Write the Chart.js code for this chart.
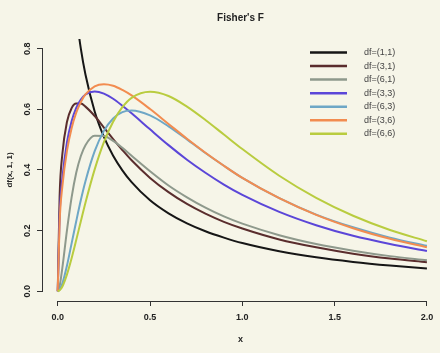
<!DOCTYPE html>
<html>
<head>
<meta charset="utf-8">
<script src="https://cdn.jsdelivr.net/npm/chart.js@4"></script>
<style>
  html, body { margin: 0; padding: 0; background: #f6f5e8; }
  #wrap { width: 440px; height: 353px; }
</style>
</head>
<body>
<div id="wrap"><canvas id="fisherChart" width="440" height="353"></canvas></div>
<script>
// x positions where the curves were read
const xs = [0, 0.01, 0.025, 0.05, 0.075, 0.1, 0.125, 0.15, 0.2, 0.25, 0.3, 0.35, 0.4,
            0.5, 0.6, 0.7, 0.8, 0.9, 1.0, 1.2, 1.4, 1.6, 1.8, 2.0];

const seriesLabels = ["df=(1,1)", "df=(3,1)", "df=(6,1)", "df=(3,3)", "df=(6,3)", "df=(3,6)", "df=(6,6)"];
const seriesColors = ["#161616", "#5a2d2d", "#8e998c", "#5b46d8", "#6ea7c6", "#f28c50", "#b9cc3f"];

const df11 = [null, null, null, null, 1.081, 0.915, 0.800, 0.715, 0.593, 0.509, 0.447, 0.399, 0.360,
              0.300, 0.257, 0.224, 0.198, 0.177, 0.159, 0.132, 0.112, 0.097, 0.085, 0.075];
const df31 = [0, 0.312, 0.453, 0.559, 0.604, 0.619, 0.619, 0.609, 0.578, 0.540, 0.502, 0.466, 0.432,
              0.374, 0.327, 0.288, 0.256, 0.229, 0.207, 0.171, 0.145, 0.124, 0.108, 0.096];
const df61 = [0, 0.017, 0.078, 0.202, 0.310, 0.391, 0.446, 0.482, 0.513, 0.512, 0.496, 0.473, 0.447,
              0.396, 0.349, 0.310, 0.276, 0.247, 0.223, 0.185, 0.156, 0.134, 0.116, 0.102];
const df33 = [0, 0.247, 0.374, 0.492, 0.561, 0.605, 0.632, 0.649, 0.659, 0.652, 0.635, 0.612, 0.587,
              0.534, 0.482, 0.434, 0.391, 0.352, 0.318, 0.262, 0.218, 0.183, 0.156, 0.133];
const df63 = [0, 0.005, 0.026, 0.085, 0.158, 0.231, 0.301, 0.363, 0.462, 0.529, 0.570, 0.591, 0.596,
              0.580, 0.544, 0.501, 0.456, 0.414, 0.374, 0.307, 0.253, 0.211, 0.177, 0.150];
const df36 = [0, 0.227, 0.347, 0.464, 0.538, 0.589, 0.624, 0.649, 0.676, 0.683, 0.678, 0.664, 0.646,
              0.601, 0.552, 0.503, 0.457, 0.414, 0.374, 0.307, 0.252, 0.208, 0.173, 0.145];
const df66 = [0, 0.003, 0.016, 0.056, 0.109, 0.169, 0.231, 0.292, 0.402, 0.492, 0.559, 0.607, 0.638,
              0.658, 0.644, 0.609, 0.565, 0.517, 0.469, 0.381, 0.308, 0.249, 0.202, 0.165];

const xTicks = [0, 0.5, 1.0, 1.5, 2.0];
const yTicks = [0, 0.2, 0.4, 0.6, 0.8];

const allSeries = [df11, df31, df61, df33, df63, df36, df66];

// later curves sit on top, as in the original plot
const datasets = allSeries.map((ys, k) => ({
  label: seriesLabels[k],
  data: ys.map((y, i) => ({ x: xs[i], y: y })),
  borderColor: seriesColors[k],
  borderWidth: 2,
  pointRadius: 0,
  fill: false,
  order: -k,
  cubicInterpolationMode: "monotone"
}));

const fontFamily = "'Liberation Sans', Arial, sans-serif";

// background, R-style axis lines, title and legend inside the plot
const decorations = {
  id: "decorations",
  beforeDraw(chart) {
    const ctx = chart.ctx;
    ctx.save();
    ctx.fillStyle = "#f6f5e8";
    ctx.fillRect(0, 0, chart.width, chart.height);
    ctx.restore();
  },
  afterDraw(chart) {
    const ctx = chart.ctx;
    const area = chart.chartArea;
    const sx = chart.scales.x;
    const sy = chart.scales.y;
    ctx.save();
    ctx.strokeStyle = "#333";
    ctx.lineWidth = 1;
    ctx.beginPath();
    ctx.moveTo(sx.getPixelForValue(xTicks[0]), area.bottom + 0.5);
    ctx.lineTo(sx.getPixelForValue(xTicks[xTicks.length - 1]), area.bottom + 0.5);
    ctx.moveTo(area.left - 0.5, sy.getPixelForValue(yTicks[0]));
    ctx.lineTo(area.left - 0.5, sy.getPixelForValue(yTicks[yTicks.length - 1]));
    ctx.stroke();

    ctx.fillStyle = "#222";
    ctx.font = "bold 10px " + fontFamily;
    ctx.textAlign = "center";
    ctx.textBaseline = "middle";
    ctx.fillText("Fisher's F", (area.left + area.right) / 2, 18);

    // legend
    ctx.font = "9px " + fontFamily;
    ctx.textAlign = "left";
    chart.data.datasets.forEach((ds, i) => {
      const y = 52.5 + i * 13.55;
      ctx.strokeStyle = ds.borderColor;
      ctx.lineWidth = 2.5;
      ctx.beginPath();
      ctx.moveTo(310, y);
      ctx.lineTo(347, y);
      ctx.stroke();
      ctx.fillStyle = "#444";
      ctx.fillText(ds.label, 364, y);
    });
    ctx.restore();
  }
};

new Chart(document.getElementById("fisherChart"), {
  type: "line",
  data: { datasets: datasets },
  options: {
    responsive: false,
    animation: false,
    layout: { padding: { top: 39, right: 2, left: 0, bottom: 0 } },
    plugins: {
      legend: { display: false },
      tooltip: { enabled: false }
    },
    scales: {
      x: {
        type: "linear",
        min: -0.08,
        max: 2.06,
        afterBuildTicks: (scale) => { scale.ticks = xTicks.map((v) => ({ value: v })); },
        afterFit: (scale) => { scale.height = 52; },
        border: { display: false },
        grid: { drawOnChartArea: false, drawTicks: true, tickLength: 5, color: "#333" },
        ticks: {
          padding: 6,
          color: "#222",
          font: { family: fontFamily, size: 9, weight: "bold" },
          maxRotation: 0,
          callback: (v) => v.toFixed(1)
        },
        title: {
          display: true,
          text: "x",
          color: "#222",
          font: { family: fontFamily, size: 9, weight: "bold" },
          padding: { top: 0, bottom: 8 }
        }
      },
      y: {
        min: -0.032,
        max: 0.832,
        afterBuildTicks: (scale) => { scale.ticks = yTicks.map((v) => ({ value: v })); },
        afterFit: (scale) => { scale.width = 43; },
        border: { display: false },
        grid: { drawOnChartArea: false, drawTicks: true, tickLength: 6, color: "#333" },
        ticks: {
          padding: 3,
          crossAlign: "center",
          minRotation: 90,
          maxRotation: 90,
          color: "#222",
          font: { family: fontFamily, size: 9, weight: "bold" },
          callback: (v) => v.toFixed(1)
        },
        title: {
          display: true,
          text: "df(x, 1, 1)",
          color: "#222",
          font: { family: fontFamily, size: 8, weight: "bold" },
          padding: { top: 5, bottom: 0 }
        }
      }
    }
  },
  plugins: [decorations]
});
</script>
</body>
</html>
